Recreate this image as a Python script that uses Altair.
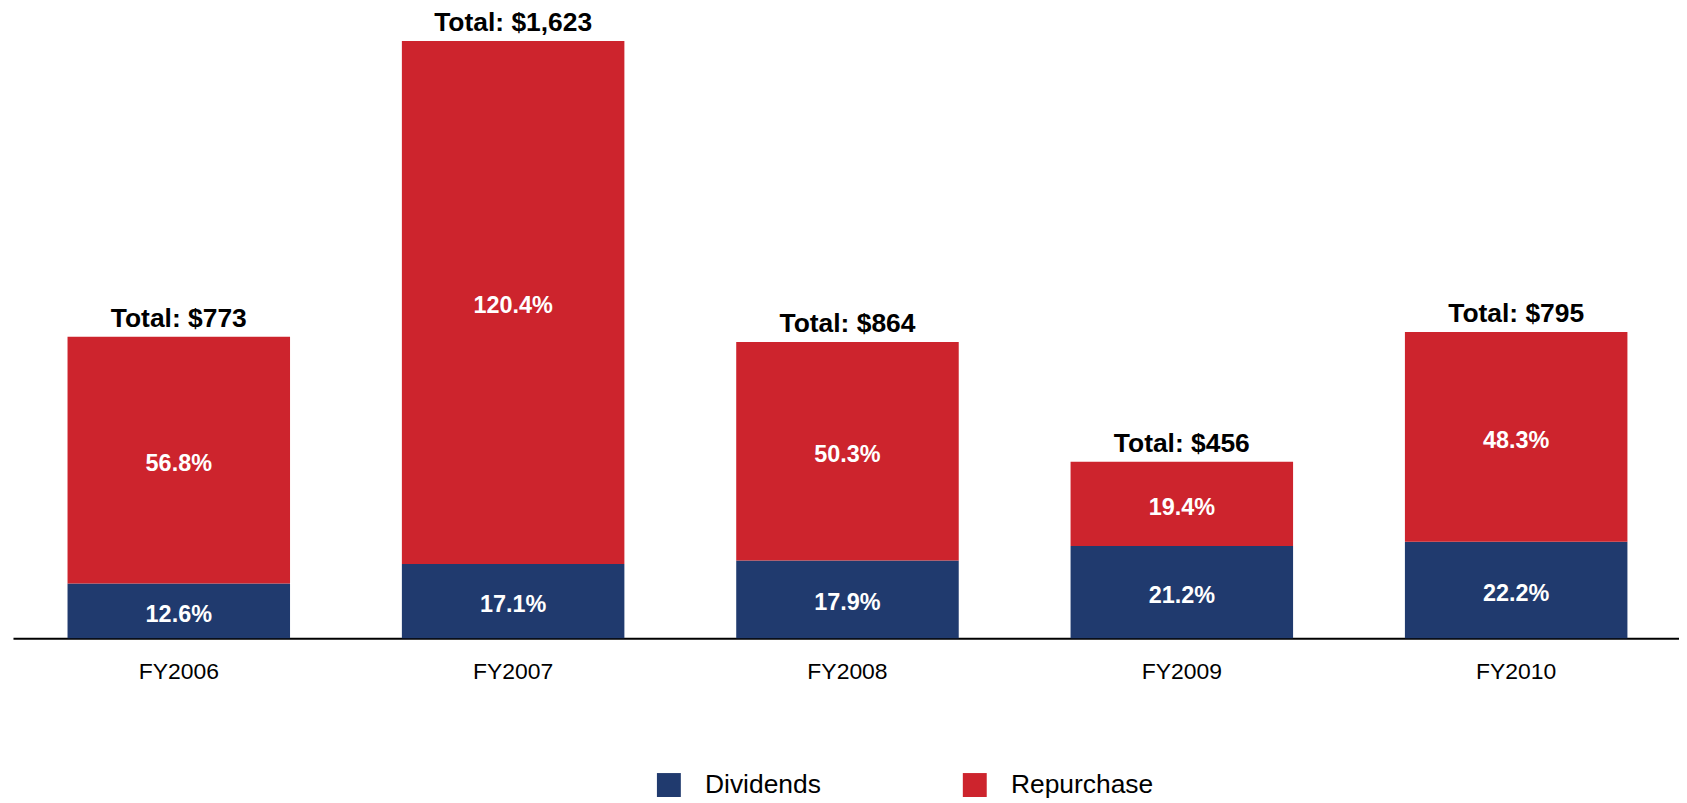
import altair as alt
import pandas as pd

years = ["FY2006", "FY2007", "FY2008", "FY2009", "FY2010"]
dividends_pct = [12.6, 17.1, 17.9, 21.2, 22.2]
repurchase_pct = [56.8, 120.4, 50.3, 19.4, 48.3]
totals = [773, 1623, 864, 456, 795]
series = ["Dividends", "Repurchase"]
colors = ["#203A6E", "#CD242D"]

rows = []
for i, y in enumerate(years):
    rows.append({"year": y, "series": series[0], "pct": dividends_pct[i], "ord": 0})
    rows.append({"year": y, "series": series[1], "pct": repurchase_pct[i], "ord": 1})
df = pd.DataFrame(rows)

tot = pd.DataFrame({"year": years, "div": dividends_pct, "rep": repurchase_pct, "total": totals})

FONT = "Liberation Sans"

x_scale = alt.Scale(paddingInner=0.3345, paddingOuter=0.1587, align=0.514)
x_enc = alt.X(
    "year:N",
    sort=years,
    title=None,
    scale=x_scale,
    axis=alt.Axis(
        labelAngle=0,
        ticks=False,
        domainColor="#000000",
        domainWidth=2,
        labelFont=FONT,
        labelFontSize=23,
        labelColor="#000000",
        labelPadding=22,
        grid=False,
    ),
)
y_scale = alt.Scale(domain=[0, 142], nice=False, zero=True)

bars = alt.Chart(df).mark_bar().encode(
    x=x_enc,
    y=alt.Y("pct:Q", stack="zero", scale=y_scale, axis=None),
    color=alt.Color(
        "series:N",
        scale=alt.Scale(domain=series, range=colors),
        legend=alt.Legend(
            title=None,
            orient="none",
            direction="horizontal",
            legendX=645,
            legendY=753,
            symbolType="square",
            symbolSize=576,
            symbolStrokeWidth=0,
            symbolOpacity=1,
            labelFont=FONT,
            labelFontSize=26.5,
            labelColor="#000000",
            labelOffset=23,
            columnPadding=141,
            padding=0,
        ),
    ),
    order=alt.Order("ord:Q", sort="ascending"),
)

pct_labels = (
    alt.Chart(df)
    .transform_stack(stack="pct", groupby=["year"], as_=["y0", "y1"], sort=[alt.SortField("ord", order="ascending")])
    .transform_calculate(mid="(datum.y0 + datum.y1) / 2", lab="format(datum.pct, '.1f') + '%'")
    .mark_text(font=FONT, fontSize=23.5, fontWeight="bold", color="white", baseline="middle", dy=4)
    .encode(x=alt.X("year:N", sort=years, scale=x_scale), y=alt.Y("mid:Q", scale=y_scale), text="lab:N")
)

tot_labels = (
    alt.Chart(tot)
    .transform_calculate(top="datum.div + datum.rep", lab="'Total: $' + format(datum.total, ',')")
    .mark_text(font=FONT, fontSize=26.5, fontWeight="bold", color="black", baseline="alphabetic", dy=-10)
    .encode(x=alt.X("year:N", sort=years, scale=x_scale), y=alt.Y("top:Q", scale=y_scale), text="lab:N")
)

chart = (
    alt.layer(bars, pct_labels, tot_labels)
    .properties(
        width=1672,
        height=619,
        autosize=alt.AutoSizeParams(type="none"),
        padding={"left": 5, "top": 12, "right": 0, "bottom": 166},
    )
    .configure(background="white")
    .configure_view(stroke=None)
)

chart.save("out.html", embed_options={"renderer": "svg", "actions": False})
